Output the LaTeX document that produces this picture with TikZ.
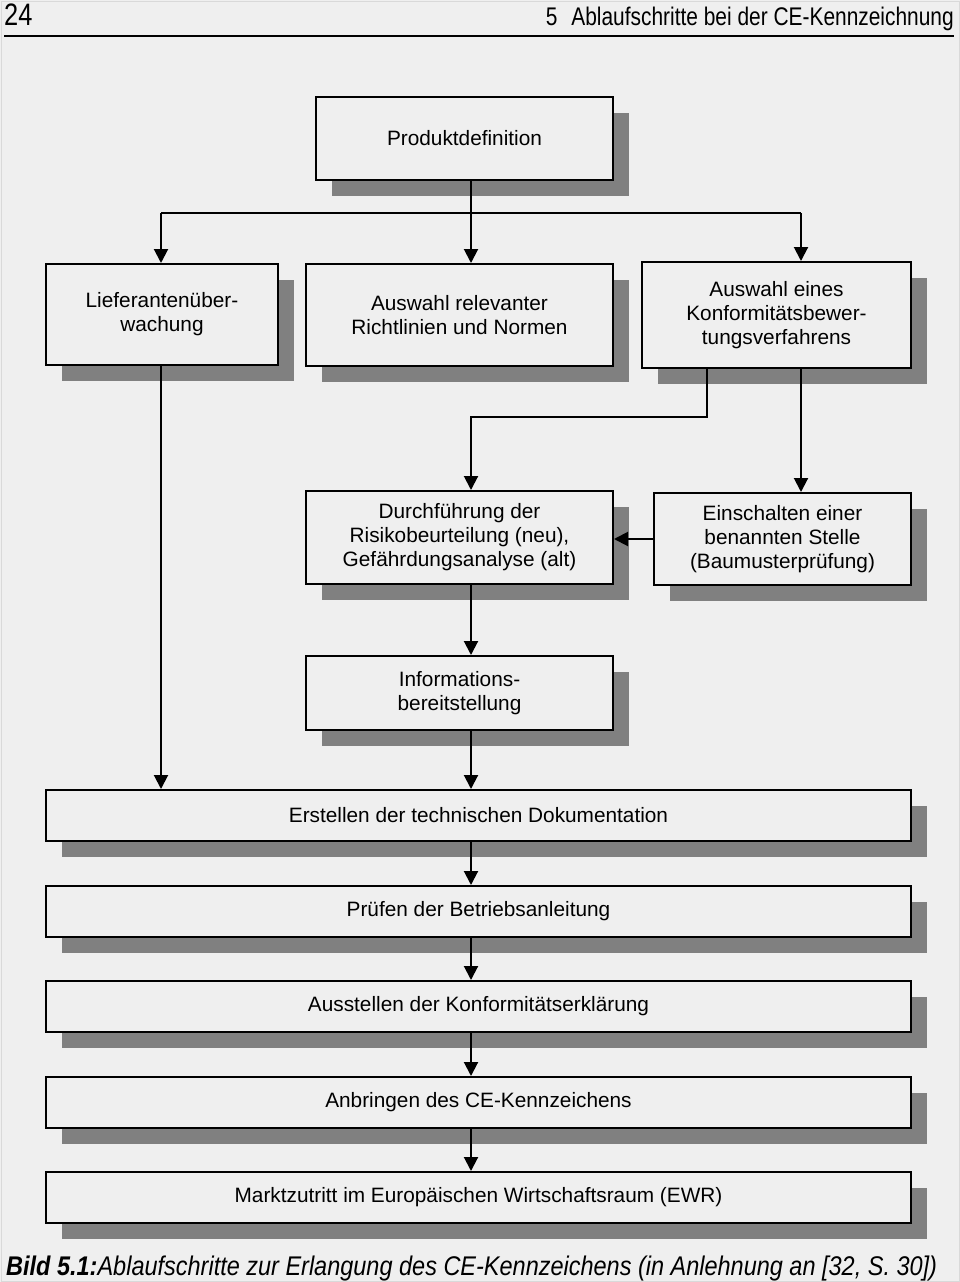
\documentclass[tikz,border=0pt]{standalone}
\usepackage{fontspec}
\setmainfont{Liberation Sans}
\newfontfamily\narrowfont[FakeStretch=0.82]{Liberation Sans}
\newfontfamily\capfont[FakeStretch=0.87]{Liberation Sans}
\usetikzlibrary{arrows.meta,shadows,calc}
\definecolor{bg}{HTML}{EFEFEF}
\definecolor{shadowgray}{HTML}{808080}
\begin{document}
\begin{tikzpicture}[x=1pt,y=-1pt,
  box/.style={draw=black,line width=2pt,fill=bg,align=center,inner sep=0pt,
    font=\fontsize{20.8}{24}\selectfont,
    drop shadow={shadow xshift=16pt,shadow yshift=-16pt,fill=shadowgray,opacity=1}},
  wide/.style={box,minimum width=865pt,minimum height=51pt},
  conn/.style={line width=2pt},
  arr/.style={conn,-{Triangle[length=14pt,width=14pt]}}]
\fill[bg] (0,0) rectangle (960,1282);
\useasboundingbox (0,0) rectangle (960,1282);
\draw[black!15,line width=1pt] (1,1) rectangle (959,1281);
% header
\node[anchor=base west,inner sep=0pt,font=\narrowfont\fontsize{31}{32}\selectfont] (pg) at (4,25) {24};
\node[anchor=base east,inner sep=0pt,font=\narrowfont\fontsize{25.5}{28}\selectfont] (hd) at (954,25) {5\hspace{14pt}Ablaufschritte bei der CE-Kennzeichnung};
\coordinate (r1) at (4,36);
\coordinate (r2) at (954,36);
\draw[line width=2pt] (r1) -- (r2);
% boxes
\node[box,minimum width=297pt,minimum height=83pt] (pd) at (464.5,138.5) {Produktdefinition};
\node[box,minimum width=232pt,minimum height=101pt] (lw) at (162,314.5) {Lieferantenüber-\\wachung};
\node[box,minimum width=307pt,minimum height=102pt] (ar) at (459.5,315) {Auswahl relevanter\\Richtlinien und Normen};
\node[box,minimum width=269pt,minimum height=106pt] (ae) at (776.5,315) {Auswahl eines\\Konformitätsbewer-\\tungsverfahrens};
\node[box,minimum width=307pt,minimum height=93pt] (dr) at (459.5,537.5) {Durchführung der\\Risikobeurteilung (neu),\\Gefährdungsanalyse (alt)};
\node[box,minimum width=257pt,minimum height=92pt] (es) at (782.5,539) {Einschalten einer\\benannten Stelle\\(Baumusterprüfung)};
\node[box,minimum width=307pt,minimum height=74pt] (ib) at (459.5,693) {Informations-\\bereitstellung};
\node[wide] (etd) at (478.5,815.5) {Erstellen der technischen Dokumentation};
\node[wide] (pb) at (478.5,911.5) {Prüfen der Betriebsanleitung};
\node[wide] (ak) at (478.5,1006.5) {Ausstellen der Konformitätserklärung};
\node[wide] (ace) at (478.5,1102.5) {Anbringen des CE-Kennzeichens};
\node[wide] (mew) at (478.5,1197.5) {Marktzutritt im Europäischen Wirtschaftsraum (EWR)};
% connectors
\coordinate (ja) at (471,213);
\coordinate (jl) at (161,213);
\coordinate (jr) at (801,213);
\draw[conn] (pd.south -| ja) -- (ja);
\draw[conn] (jl) -- (jr);
\draw[arr] (jl) -- (jl |- lw.north);
\draw[arr] (ja) -- (ja |- ar.north);
\draw[arr] (jr) -- (jr |- ae.north);
\coordinate (kb) at (707,417);
\coordinate (ka) at (471,417);
\draw[arr] (ae.south -| kb) -- (kb) -- (ka) -- (ka |- dr.north);
\draw[arr] (ae.south -| jr) -- (jr |- es.north);
\draw[arr] (es.west) -- (dr.east |- es.west);
\draw[arr] (dr.south -| ja) -- (ja |- ib.north);
\draw[arr] (lw.south -| jl) -- (jl |- etd.north);
\draw[arr] (ib.south -| ja) -- (ja |- etd.north);
\draw[arr] (etd.south -| ja) -- (ja |- pb.north);
\draw[arr] (pb.south -| ja) -- (ja |- ak.north);
\draw[arr] (ak.south -| ja) -- (ja |- ace.north);
\draw[arr] (ace.south -| ja) -- (ja |- mew.north);
% caption
\node[anchor=base west,inner sep=0pt,font=\capfont\fontsize{27}{28}\selectfont] (cap) at (6,1275) {\textbf{\textit{Bild 5.1:}}\textit{Ablaufschritte zur Erlangung des CE-Kennzeichens (in Anlehnung an [32, S. 30])}};
\end{tikzpicture}
\end{document}
